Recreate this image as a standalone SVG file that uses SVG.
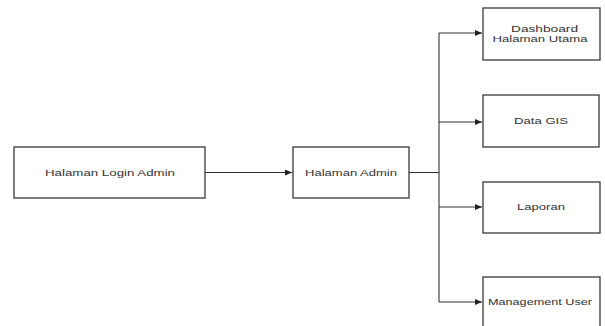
<svg xmlns="http://www.w3.org/2000/svg" width="605" height="326" viewBox="0 0 605 326">
<defs>
<marker id="arr" markerWidth="7" markerHeight="6" refX="7" refY="3" orient="auto" markerUnits="userSpaceOnUse">
<path d="M0,0 L7,3 L0,6 Z" fill="#222"/>
</marker>
<style>
.box{fill:#fff;stroke:#3a3a3a;stroke-width:1.3}
.lbl{font-family:"Liberation Sans",Arial,sans-serif;font-size:9px;fill:#333;text-anchor:middle}
.con{fill:none;stroke:#333;stroke-width:1.1}
</style>
</defs>
<rect width="605" height="326" fill="#fff"/>
<g id="connectors">
<path class="con" d="M205,172.5 H292" marker-end="url(#arr)"/>
<path class="con" d="M409,172.5 H439"/>
<path class="con" d="M439,33 V302"/>
<path class="con" d="M439,33 H482" marker-end="url(#arr)"/>
<path class="con" d="M439,122 H482" marker-end="url(#arr)"/>
<path class="con" d="M439,207 H482" marker-end="url(#arr)"/>
<path class="con" d="M439,302 H482" marker-end="url(#arr)"/>
</g>
<g id="login">
<rect class="box" x="14" y="147" width="191" height="51"/>
<text class="lbl" x="110" y="176" textLength="130" lengthAdjust="spacingAndGlyphs">Halaman Login Admin</text>
</g>
<g id="admin">
<rect class="box" x="293" y="147" width="116" height="51"/>
<text class="lbl" x="351" y="176" textLength="92" lengthAdjust="spacingAndGlyphs">Halaman Admin</text>
</g>
<g id="dashboard">
<rect class="box" x="483" y="8" width="117" height="52"/>
<text class="lbl" x="544.5" y="32" textLength="67" lengthAdjust="spacingAndGlyphs">Dashboard</text>
<text class="lbl" x="540" y="42" textLength="95" lengthAdjust="spacingAndGlyphs">Halaman Utama</text>
</g>
<g id="datagis">
<rect class="box" x="483" y="95" width="116" height="52"/>
<text class="lbl" x="541" y="124" textLength="54" lengthAdjust="spacingAndGlyphs">Data GIS</text>
</g>
<g id="laporan">
<rect class="box" x="483" y="182" width="117" height="51"/>
<text class="lbl" x="541" y="210" textLength="48" lengthAdjust="spacingAndGlyphs">Laporan</text>
</g>
<g id="management">
<rect class="box" x="483" y="277" width="117" height="60"/>
<text class="lbl" x="540" y="305" textLength="104" lengthAdjust="spacingAndGlyphs">Management User</text>
</g>
</svg>
